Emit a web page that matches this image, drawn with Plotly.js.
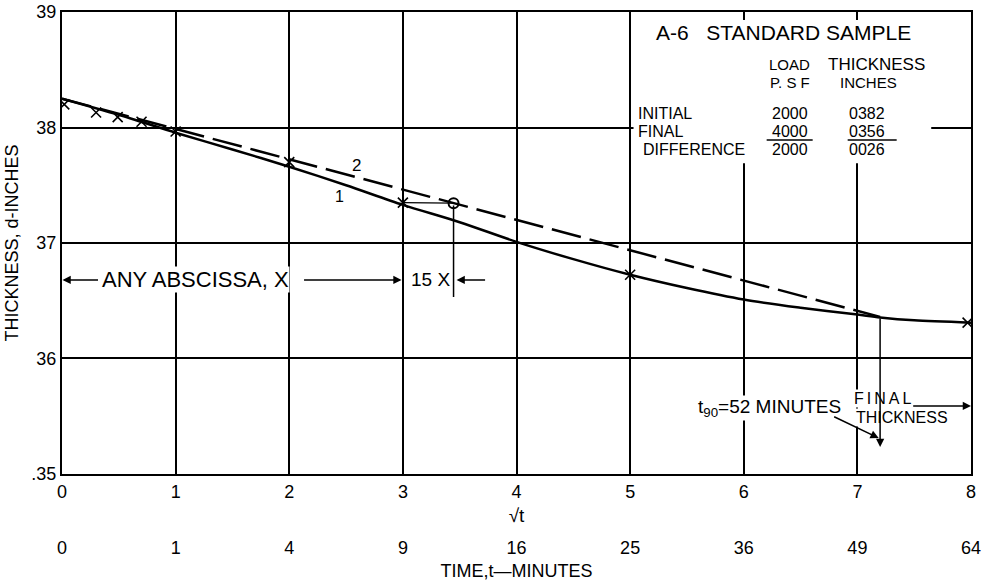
<!DOCTYPE html>
<html><head><meta charset="utf-8">
<script src="https://cdn.plot.ly/plotly-3.0.1.min.js"></script>
<style>html,body{margin:0;padding:0;background:#fff}#chart{width:987px;height:581px}</style>
</head><body><div id="chart"></div>
<script>
// axis ticks
const sqrtTicks = [0,1,2,3,4,5,6,7,8];
const sqrtTickText = ['0','1','2','3','4','5','6','7','8'];
const timeTicks = [0,1,4,9,16,25,36,49,64];
const thickTicks = [35,36,37,38,39];
const thickTickText = ['.35','36','37','38','39'];
// observed readings (x marks)
const obsSqrtT = [0.02,0.30,0.49,0.70,1.00,2.00,3.00,5.00,7.97];
const obsThick = [38.20,38.13,38.09,38.05,37.965,37.70,37.35,36.725,36.31];
// curve 1 (solid)
const curve1SqrtT = [0,0.5,1,1.5,2,2.5,3,3.5,4,4.5,5,5.5,6,6.5,7,7.2,7.5,8];
const curve1Thick = [38.25,38.11,37.955,37.81,37.66,37.50,37.33,37.18,37.01,36.86,36.725,36.61,36.51,36.44,36.38,36.355,36.33,36.31];
// curve 2 (dashed, 1.15 x abscissa)
const curve2SqrtT = [0,3.446,7.2];
const curve2Thick = [38.25,37.345,36.36];
const circleSqrtT = [3.446];
const circleThick = [37.345];
// table
const rowLabels = ['INITIAL','FINAL','DIFFERENCE'];
const loads = ['2000','4000','2000'];
const thicknesses = ['0382','0356','0026'];

const FONT = 'Liberation Sans, Arial, sans-serif';
const X = px => (px - 62.5) / 113.6;
const Y = py => 39 - (py - 12) / 115.5;

function txt(text, px, py, size, anchor, bg) {
  const a = {x: X(px), y: Y(py), xref:'x', yref:'y', text: text, showarrow:false,
    font:{size:size, color:'#000', family:FONT}, xanchor: anchor || 'center', yanchor:'middle', borderpad:0};
  if (bg) a.bgcolor = '#fff';
  return a;
}
function arrow(x0, y0, x1, y1) {
  return {x:x1, y:y1, ax:x0, ay:y0, xref:'x', yref:'y', axref:'x', ayref:'y', text:'', showarrow:true,
    arrowhead:2, arrowsize:1.1, arrowwidth:1.5, arrowcolor:'#000', standoff:0, startstandoff:0};
}

const traces = [
  {x: curve1SqrtT, y: curve1Thick, mode:'lines', line:{color:'#000', width:2.5, shape:'spline', smoothing:0.8}, hoverinfo:'skip', showlegend:false},
  {x: curve2SqrtT, y: curve2Thick, mode:'lines', line:{color:'#000', width:2.5, dash:'30px,9px'}, hoverinfo:'skip', showlegend:false},
  {x: obsSqrtT, y: obsThick, mode:'markers', marker:{symbol:'x-thin', size:10, color:'#000', line:{width:1.6, color:'#000'}}, showlegend:false},
  {x: circleSqrtT, y: circleThick, mode:'markers', marker:{symbol:'circle-open', size:10, color:'#000', line:{width:2, color:'#000'}}, showlegend:false},
  {x: [0,8], y: [null,null], xaxis:'x2', yaxis:'y', mode:'lines', hoverinfo:'skip', showlegend:false}
];

const ann = [];
ann.push(txt('A-6\u00a0\u00a0\u00a0STANDARD SAMPLE', 784, 32, 21));
ann.push(txt('LOAD', 790, 64, 15));
ann.push(txt('P. S F', 790, 82, 15));
ann.push(txt('THICKNESS', 877, 64, 17));
ann.push(txt('INCHES', 869, 82, 15));
const rowY = [113, 131, 149];
rowLabels.forEach((r, i) => ann.push(txt(r, i === 2 ? 642 : 637, rowY[i], 16, 'left')));
loads.forEach((v, i) => ann.push(txt(v, 790, rowY[i], 16)));
thicknesses.forEach((v, i) => ann.push(txt(v, 848, rowY[i], 16, 'left')));
ann.push(txt('2', 357, 166, 17));
ann.push(txt('1', 340, 197, 16));
ann.push(txt('ANY ABSCISSA, X', 196, 280, 22, 'center', true));
ann.push(arrow(X(100), Y(280), X(63), Y(280)));
ann.push(arrow(X(303), Y(280), X(402), Y(280)));
ann.push(txt('15 X', 431, 280, 19));
ann.push(arrow(X(487), Y(280), X(457), Y(280)));
ann.push(txt('t<sub>90</sub>=52 MINUTES', 697, 408, 19, 'left', true));
ann.push(txt('<span style="letter-spacing:3px">FINAL</span>', 853, 399, 16, 'left', true));
ann.push(txt('THICKNESS', 855, 418, 16, 'left', true));
ann.push(arrow(X(912), Y(406), 8, Y(406)));
ann.push(arrow(X(833), Y(416), X(879), Y(438)));
ann.push(arrow(curve2SqrtT[2], curve2Thick[2], curve2SqrtT[2], Y(447)));

const shapes = [
  {type:'rect', xref:'x', yref:'y', x0:5.03, x1:7.65, y0:37.69, y1:38.93, fillcolor:'#fff', line:{width:0}, layer:'between'},
  {type:'line', xref:'x', yref:'y', x0:obsSqrtT[6], y0:obsThick[6], x1:circleSqrtT[0], y1:circleThick[0], line:{color:'#000', width:1.2}},
  {type:'line', xref:'x', yref:'y', x0:circleSqrtT[0], y0:circleThick[0]-0.02, x1:circleSqrtT[0], y1:Y(297), line:{color:'#000', width:1.5}},
  {type:'line', xref:'x', yref:'y', x0:X(767), y0:Y(140), x1:X(813), y1:Y(140), line:{color:'#000', width:1.5}},
  {type:'line', xref:'x', yref:'y', x0:X(848), y0:Y(140), x1:X(897), y1:Y(140), line:{color:'#000', width:1.5}}
];

const layout = {
  width:987, height:581,
  margin:{l:62, r:16, t:12, b:20},
  paper_bgcolor:'#fff', plot_bgcolor:'#fff',
  font:{family:FONT, color:'#000'},
  showlegend:false,
  xaxis:{range:[0,8], tickvals:sqrtTicks, ticktext:sqrtTickText, showgrid:true, gridcolor:'#000', gridwidth:2,
    showline:true, linecolor:'#000', linewidth:2, mirror:true, ticks:'', zeroline:false, automargin:false,
    tickfont:{size:18}, title:{text:'√t', font:{size:19}, standoff:8}, anchor:'y'},
  xaxis2:{range:[0,8], overlaying:'x', anchor:'free', position:0.047, tickvals:timeTicks.map(Math.sqrt),
    ticktext:timeTicks.map(String), showgrid:false, showline:false, zeroline:false, ticks:'', automargin:false,
    tickfont:{size:18}, title:{text:'TIME,t—MINUTES', font:{size:18}, standoff:8}, side:'bottom'},
  yaxis:{domain:[0.1585,1], range:[35,39], tickvals:thickTicks, ticktext:thickTickText, showgrid:true, gridcolor:'#000',
    gridwidth:2, showline:true, linecolor:'#000', linewidth:2, mirror:true, ticks:'', zeroline:false, automargin:false,
    tickfont:{size:18}, title:{text:'THICKNESS, d-INCHES', font:{size:18}, standoff:8}},
  annotations:ann,
  shapes:shapes
};
Plotly.newPlot('chart', traces, layout, {staticPlot:true});
</script>
</body></html>
